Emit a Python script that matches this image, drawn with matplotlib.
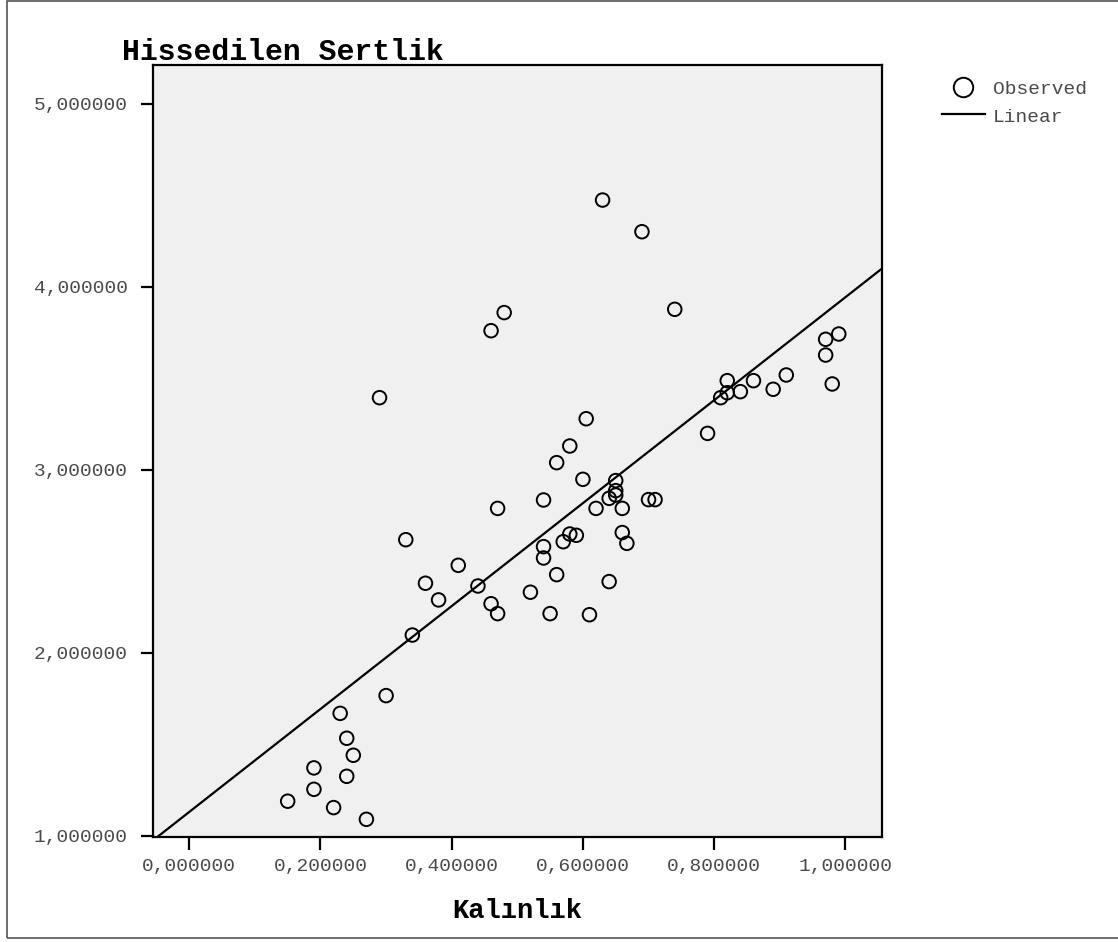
import numpy as np
import matplotlib.pyplot as plt
from matplotlib.patches import Rectangle
from matplotlib.lines import Line2D

# Kalınlık vs Hissedilen Sertlik
kalinlik = [0.15, 0.19, 0.19, 0.22, 0.23, 0.24, 0.24, 0.25, 0.27, 0.29,
            0.30, 0.33, 0.34, 0.36, 0.38, 0.41, 0.44, 0.46, 0.46, 0.47,
            0.47, 0.48, 0.52, 0.54, 0.54, 0.54, 0.55, 0.56, 0.56, 0.57,
            0.58, 0.58, 0.59, 0.60, 0.605, 0.61, 0.62, 0.63, 0.64, 0.64,
            0.65, 0.65, 0.65, 0.66, 0.66, 0.667, 0.69, 0.70, 0.71, 0.74,
            0.79, 0.81, 0.82, 0.82, 0.84, 0.86, 0.89, 0.91, 0.97, 0.97,
            0.98, 0.99]
sertlik = [1.190, 1.255, 1.372, 1.155, 1.670, 1.534, 1.326, 1.441, 1.091, 3.395,
           1.767, 2.619, 2.098, 2.381, 2.290, 2.479, 2.366, 3.761, 2.269, 2.790,
           2.215, 3.860, 2.332, 2.836, 2.581, 2.519, 2.215, 3.040, 2.428, 2.608,
           3.131, 2.650, 2.643, 2.949, 3.280, 2.209, 2.790, 4.475, 2.845, 2.390,
           2.942, 2.887, 2.863, 2.790, 2.658, 2.599, 4.302, 2.838, 2.838, 3.878,
           3.200, 3.395, 3.488, 3.422, 3.428, 3.488, 3.441, 3.519, 3.714, 3.628,
           3.470, 3.743]
xticks = [0.0, 0.2, 0.4, 0.6, 0.8, 1.0]
yticks = [1.0, 2.0, 3.0, 4.0, 5.0]

x = np.array(kalinlik)
y = np.array(sertlik)
slope, intercept = np.polyfit(x, y, 1)

mono = 'Liberation Mono'
W, H = 1118, 942
fig = plt.figure(figsize=(W / 100, H / 100), dpi=100)
ax = fig.add_axes([153 / W, 1 - 836.7 / H, (882 - 153) / W, (836.7 - 65) / H])
ax.set_facecolor('#f0f0f0')

xmin, xmax = -0.0553, 1.0559
ax.set_xlim(xmin, xmax)
ax.set_ylim(0.996, 5.213)

xl = np.array([xmin, xmax])
ax.plot(xl, intercept + slope * xl, color='black', lw=1.6, zorder=2)
ax.scatter(x, y, s=95, facecolors='none', edgecolors='black', linewidths=1.4, zorder=3)

ax.set_xticks(xticks)
ax.set_yticks(yticks)
ax.set_xticklabels([f'{v:.6f}'.replace('.', ',') for v in xticks])
ax.set_yticklabels([f'{v:.6f}'.replace('.', ',') for v in yticks])
ax.tick_params(direction='out', length=9, width=1.6, colors='black',
               labelcolor='#4a4a4a', labelsize=14, pad=6)
ax.tick_params(axis='y', pad=9)
for lab in ax.get_xticklabels() + ax.get_yticklabels():
    lab.set_family(mono)
for sp in ax.spines.values():
    sp.set_linewidth(1.6)

ax.set_xlabel('Kalınlık', family=mono, fontweight='bold', fontsize=19.5, labelpad=17)

fig.text(122 / W, 1 - 60 / H, 'Hissedilen Sertlik', family=mono,
         fontweight='bold', fontsize=21.4, ha='left', va='baseline')

# legend
fig.add_artist(Line2D([963 / W], [1 - 87 / H], marker='o', markersize=14,
                      markerfacecolor='none', markeredgecolor='black',
                      markeredgewidth=1.4, linestyle='none'))
fig.add_artist(Line2D([942 / W, 985 / W], [1 - 114 / H, 1 - 114 / H],
                      color='black', lw=1.6))
fig.text(993 / W, 1 - 89 / H, 'Observed', family=mono, fontsize=14,
         color='#4a4a4a', va='center')
fig.text(993 / W, 1 - 118 / H, 'Linear', family=mono, fontsize=14,
         color='#4a4a4a', va='center')

# outer frame
fig.add_artist(Rectangle((7 / W, 1 - 938 / H), (W + 10) / W, (937) / H,
                         transform=fig.transFigure, fill=False,
                         edgecolor='#555555', lw=1.2))

fig.savefig('out.png', dpi=100)
